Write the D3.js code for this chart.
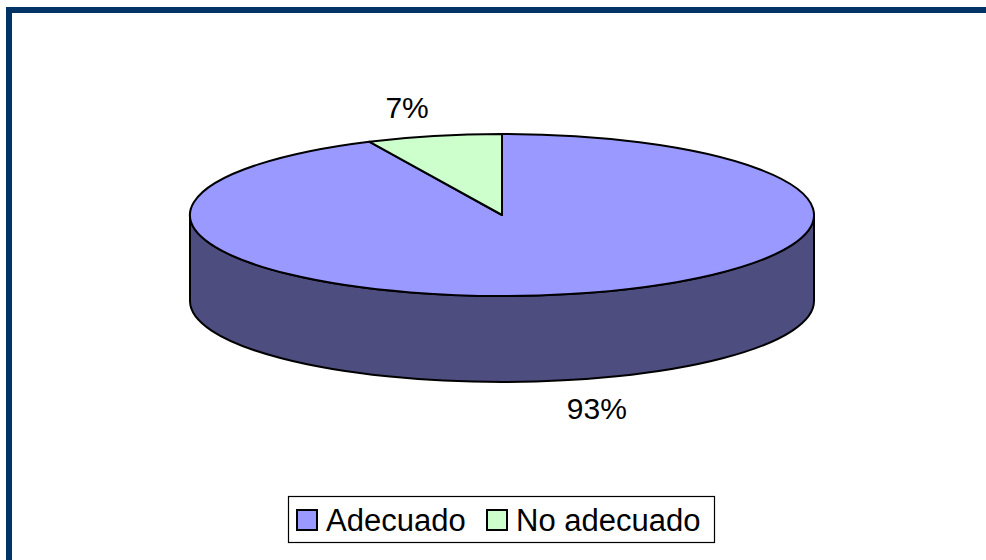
<!DOCTYPE html>
<html>
<head>
<meta charset="utf-8">
<script src="https://cdn.jsdelivr.net/npm/d3@7"></script>
<style>
  body { margin: 0; background: #fff; }
  svg { display: block; font-family: "Liberation Sans", Arial, sans-serif; }
</style>
</head>
<body>
<svg id="chart" width="986" height="560"></svg>
<script>
// data
var categories = ["Adecuado", "No adecuado"];
var values = [93, 7];
var labels = ["93%", "7%"];
var topColors = ["#9999FF", "#CCFFCC"];
var sideColors = ["#4D4D80", "#668066"];

var width = 986, height = 560;
var cx = 502, cy = 215,
    rx = 312, ry = 81,
    depth = 86;

var svg = d3.select("#chart");

// frame
svg.append("rect")
    .attr("x", 9).attr("y", 10)
    .attr("width", 1000).attr("height", 600)
    .attr("fill", "none")
    .attr("stroke", "#003366")
    .attr("stroke-width", 6);

var pie = d3.pie().sort(null).value(function(d) { return d; });
var arcs = pie(values);

// point on ellipse, angle measured clockwise from 12 o'clock
function pt(a, dy) {
    return [cx + rx * Math.sin(a), cy - ry * Math.cos(a) + (dy || 0)];
}

// side walls (only front half, angles PI/2 .. 3PI/2)
var sides = svg.append("g");
arcs.forEach(function(d, i) {
    var a0 = Math.max(d.startAngle, Math.PI / 2),
        a1 = Math.min(d.endAngle, 3 * Math.PI / 2);
    if (a1 <= a0) return;
    var p0 = pt(a0), p1 = pt(a1);
    var b0 = pt(a0, depth), b1 = pt(a1, depth);
    var large = (a1 - a0) > Math.PI ? 1 : 0;
    var path = "M" + p0 + "L" + b0 +
        "A" + rx + "," + ry + " 0 " + large + " 1 " + b1 +
        "L" + p1 +
        "A" + rx + "," + ry + " 0 " + large + " 0 " + p0 + "Z";
    sides.append("path")
        .attr("d", path)
        .attr("fill", sideColors[i])
        .attr("stroke", "#000")
        .attr("stroke-width", 2)
        .attr("stroke-linejoin", "round");
});

// top faces
var arc = d3.arc().innerRadius(0).outerRadius(rx);
var face = svg.append("g")
    .attr("transform", "translate(" + cx + "," + cy + ") scale(1," + (ry / rx) + ")");
face.selectAll("path")
    .data(arcs)
    .enter().append("path")
    .attr("d", arc)
    .attr("fill", function(d, i) { return topColors[i]; })
    .attr("stroke", "#000")
    .attr("stroke-width", 2)
    .attr("stroke-linejoin", "round")
    .attr("vector-effect", "non-scaling-stroke");

// data labels
var labelRx = 435, labelRy = 110;
svg.selectAll("text.lbl")
    .data(arcs)
    .enter().append("text")
    .attr("class", "lbl")
    .attr("x", function(d) {
        var m = (d.startAngle + d.endAngle) / 2;
        return cx + labelRx * Math.sin(m);
    })
    .attr("y", function(d) {
        var m = (d.startAngle + d.endAngle) / 2;
        var c = Math.cos(m);
        return cy - labelRy * c + (c < 0 ? depth : 0);
    })
    .attr("text-anchor", "middle")
    .attr("dominant-baseline", "central")
    .attr("font-size", 30)
    .text(function(d, i) { return labels[i]; });

// legend
var legend = svg.append("g");
legend.append("rect")
    .attr("x", 288.5).attr("y", 496.5)
    .attr("width", 426).attr("height", 46)
    .attr("fill", "#fff")
    .attr("stroke", "#000")
    .attr("stroke-width", 1.2);
var legX = [297, 487];
categories.forEach(function(c, i) {
    legend.append("rect")
        .attr("x", legX[i]).attr("y", 510)
        .attr("width", 20).attr("height", 20)
        .attr("fill", topColors[i])
        .attr("stroke", "#000")
        .attr("stroke-width", 2);
    legend.append("text")
        .attr("x", legX[i] + 29).attr("y", 520)
        .attr("dominant-baseline", "central")
        .attr("font-size", 31)
        .text(c);
});
</script>
</body>
</html>
